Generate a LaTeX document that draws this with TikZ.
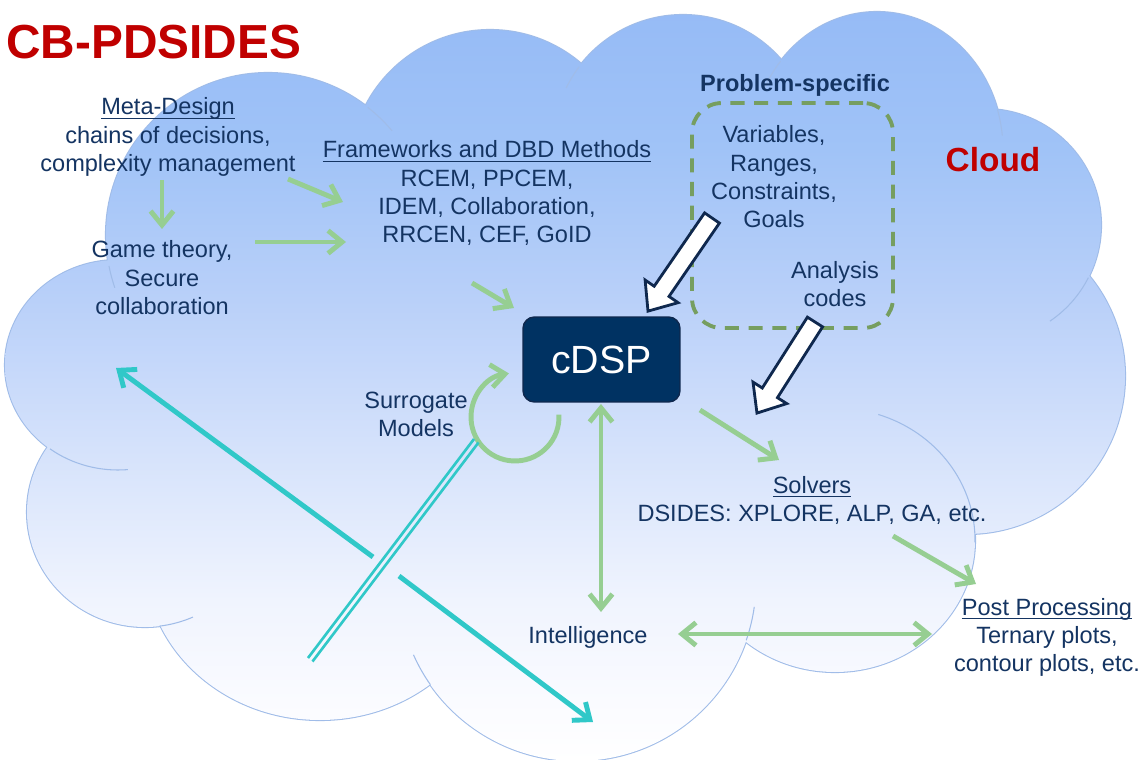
\documentclass[tikz,border=0pt]{standalone}
\usepackage{fontspec}
\setmainfont{Liberation Sans}
\usetikzlibrary{arrows.meta,calc}
\definecolor{navy}{RGB}{20,52,98}
\definecolor{titlered}{RGB}{192,0,0}
\definecolor{gr}{RGB}{150,206,146}
\definecolor{dgr}{RGB}{118,158,96}
\definecolor{cy}{RGB}{48,200,200}
\definecolor{boxblue}{RGB}{0,50,98}
\definecolor{boxedge}{RGB}{15,40,78}
\definecolor{cloudedge}{RGB}{160,188,232}
\definecolor{clA}{RGB}{150,187,246}
\definecolor{clB}{RGB}{160,195,247}
\definecolor{clC}{RGB}{185,208,249}
\definecolor{clD}{RGB}{213,226,251}
\definecolor{clE}{RGB}{240,244,254}
\definecolor{clF}{RGB}{250,251,255}
\pgfdeclareverticalshading{cloudsh}{100bp}{color(0bp)=(white); color(25bp)=(white);
  color(29bp)=(clF); color(35.7bp)=(clE); color(45.8bp)=(clD); color(55.8bp)=(clC);
  color(65.8bp)=(clB); color(75bp)=(clA); color(100bp)=(clA)}
\newcommand\bodyfont{\fontsize{13.4}{16.1}\selectfont}
\newcommand\tb[1]{\begin{tabular}[t]{@{}c@{}}#1\end{tabular}}
\newcommand\ulx[1]{\setbox0\hbox{#1}\rlap{\rule[-2.4pt]{\wd0}{0.8pt}}\box0}
\begin{document}
\begin{tikzpicture}[x=0.02cm,y=-0.02cm,
  txt/.style={text=navy,font=\bodyfont,inner sep=0pt,anchor=base},
  tipg/.tip={Straight Barb[length=8pt,width=13pt]},
  garrow/.style={draw=gr,line width=2.8pt,-tipg},
  gdouble/.style={draw=gr,line width=2.8pt,tipg-tipg},
  carrow/.style={draw=cy,line width=2.8pt,-{Straight Barb[length=8pt,width=13pt]}},
  cline/.style={draw=cy,line width=1.5pt},
  cloudline/.style={draw=cloudedge,line width=0.6pt},
  blk/.style={fill=white,draw=boxedge,line width=1.6pt,line join=miter},
  cdspbox/.style={rectangle,rounded corners=6.5pt,fill=boxblue,draw=boxedge,line width=0.8pt,
    minimum width=3.14cm,minimum height=1.7cm,inner sep=0pt,text=white,
    font=\fontsize{22.4}{26}\selectfont},
  dbox/.style={rectangle,draw=dgr,line width=2.2pt,dash pattern=on 8pt off 5.5pt,
    rounded corners=17pt,minimum width=4.02cm,minimum height=4.5cm,inner sep=0pt}
]
\useasboundingbox (0,0) rectangle (1143,760);
\fill[white] (0,0) rectangle (1143,760);
\begin{scope}
\clip (0,0) rectangle (1143,760);
% cloud outlines (outer halves stay visible)
\foreach \cx/\cy/\rx/\ry in {268/235/162/162,490/170/140/140,683/145/130/130,877/150/126/138,
  985/225/116/116,967/376/158/158,835/540/140/132,577/582/179/179,320/560/175/160,
  145/512/118/115,118/365/113/105}
  \draw[draw=cloudedge,line width=1.2pt] (\cx,\cy) ellipse [x radius=\rx,y radius=\ry];
% cloud body
\shade[shading=cloudsh]
  (268,235) ellipse [x radius=162,y radius=162]
  (490,170) ellipse [x radius=140,y radius=140]
  (683,145) ellipse [x radius=130,y radius=130]
  (877,150) ellipse [x radius=126,y radius=138]
  (985,225) ellipse [x radius=116,y radius=116]
  (967,376) ellipse [x radius=158,y radius=158]
  (835,540) ellipse [x radius=140,y radius=132]
  (577,582) ellipse [x radius=179,y radius=179]
  (320,560) ellipse [x radius=175,y radius=160]
  (145,512) ellipse [x radius=118,y radius=115]
  (118,365) ellipse [x radius=113,y radius=105]
  (560,400) ellipse [x radius=420,y radius=270];
% inner arcs of the cloud
\foreach \cx/\cy/\rx/\ry/\a/\b in {268/235/162/162/169/161, 268/235/162/162/-52/-40,
  683/145/130/130/217/206, 877/150/126/138/220/206, 877/150/126/138/-17/-6,
  985/225/116/116/27/56, 835/540/140/132/-72/1, 577/582/179/179/19/8,
  577/582/179/179/145/156, 145/512/118/115/83/66, 118/365/113/105/127/85}
  \draw[cloudline] ($(\cx,\cy)+({\rx*cos(\a)},{\ry*sin(\a)})$) arc[start angle=\a,end angle=\b,x radius=\rx,y radius=\ry];
\end{scope}

% title and labels
\node[anchor=base west,inner sep=0pt,text=titlered,font=\fontsize{27.2}{30}\selectfont\bfseries] (title) at (6,59) {CB-PDSIDES};
\node[anchor=base,inner sep=0pt,text=titlered,font=\fontsize{19}{22}\selectfont\bfseries] (cloudlbl) at (993,172) {Cloud};

\node[txt] (meta) at (168,115) {\tb{\ulx{Meta-Design}\\chains of decisions,\\complexity management}};
\node[txt] (game) at (162,258) {\tb{Game theory,\\Secure\\collaboration}};
\node[txt] (fw) at (487,158) {\tb{\ulx{Frameworks and DBD Methods}\\RCEM, PPCEM,\\IDEM, Collaboration,\\RRCEN, CEF, GoID}};
\node[txt,font=\bodyfont\bfseries] (ps) at (795,92) {Problem-specific};
\node[dbox] (pbox) at (792.5,215.5) {};
\node[txt] (vars) at (774,143) {\tb{Variables,\\Ranges,\\Constraints,\\Goals}};
\node[txt] (ana) at (835,278) {\tb{Analysis\\codes}};
\node[cdspbox] (cdsp) at (601.5,359.5) {cDSP};
\node[txt] (sur) at (416,408) {\tb{Surrogate\\Models}};
\node[txt] (solv) at (812,493) {\tb{\ulx{Solvers}\\DSIDES: XPLORE, ALP, GA, etc.}};
\node[txt] (intel) at (588,643) {Intelligence};
\node[txt] (post) at (1047,615) {\tb{\ulx{Post Processing}\\Ternary plots,\\contour plots, etc.}};

% connector end points
\coordinate (a1s) at (162,180); \coordinate (a1e) at (162,229);
\coordinate (a2s) at (288,179); \coordinate (a2e) at (343,202);
\coordinate (a3s) at (255,242); \coordinate (a3e) at (346,242);
\coordinate (a4s) at (472,283); \coordinate (a4e) at (514,308);
\coordinate (sc) at (515,417);
\coordinate (a6s) at (601,404); \coordinate (a6e) at (601,612);
\coordinate (a7s) at (678,634); \coordinate (a7e) at (932,634);
\coordinate (a8s) at (700,410); \coordinate (a8e) at (779,460);
\coordinate (a9s) at (893,536); \coordinate (a9e) at (976,584);
\coordinate (c1s) at (373,557); \coordinate (c1e) at (116,368);
\coordinate (c2s) at (399,576); \coordinate (c2e) at (593,722);
\coordinate (d1s) at (308,658); \coordinate (d1e) at (474,439);
\coordinate (d2s) at (312.5,661.5); \coordinate (d2e) at (478.5,442.5);
\coordinate (w1s) at (712,218);
\coordinate (w2s) at (815,322);

% green connectors
\draw[garrow] (a1s) -- (a1e);
\draw[garrow] (a2s) -- (a2e);
\draw[garrow] (a3s) -- (a3e);
\draw[garrow] (a4s) -- (a4e);
\draw[garrow] ($(sc)+({44*cos(-3)},{44*sin(-3)})$) arc[start angle=-3,end angle=262,radius=44];
\draw[gdouble] (a6s) -- (a6e);
\draw[gdouble] (a7s) -- (a7e);
\draw[garrow] (a8s) -- (a8e);
\draw[garrow] (a9s) -- (a9e);

% cyan connectors
\draw[carrow] (c1s) -- (c1e);
\draw[carrow] (c2s) -- (c2e);
\draw[cline] (d1s) -- (d1e);
\draw[cline] (d2s) -- (d2e);

% white block arrows
\begin{scope}[shift={(w1s)},rotate=-124.5]
  \draw[blk] (0,-9) -- (89,-9) -- (89,-20) -- (113,0) -- (89,20) -- (89,9) -- (0,9) -- cycle;
\end{scope}
\begin{scope}[shift={(w2s)},rotate=-122.5]
  \draw[blk] (0,-9) -- (84,-9) -- (84,-20) -- (108,0) -- (84,20) -- (84,9) -- (0,9) -- cycle;
\end{scope}
\end{tikzpicture}
\end{document}
